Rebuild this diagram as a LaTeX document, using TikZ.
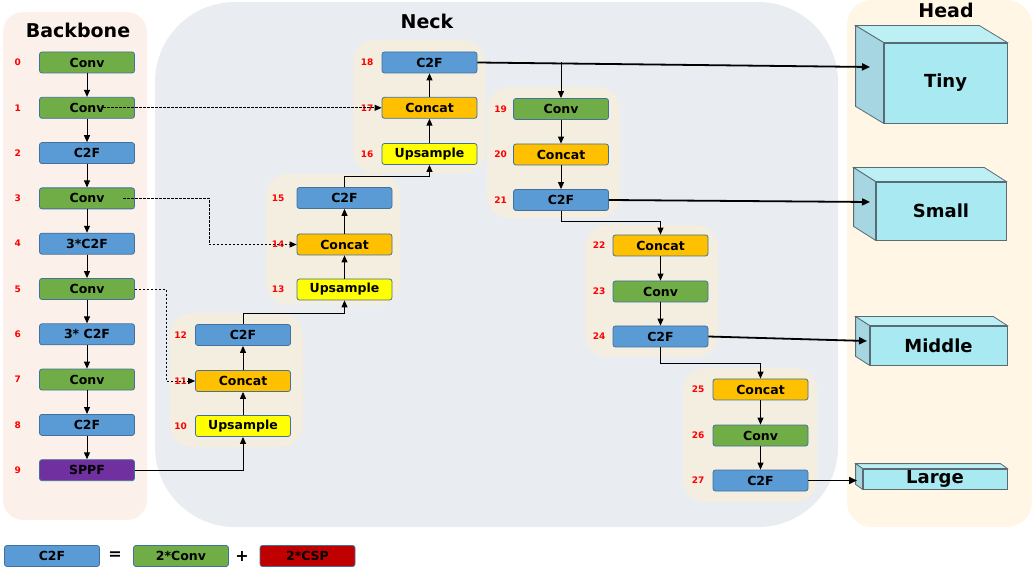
\documentclass[tikz,border=0pt]{standalone}
\usepackage{fontspec}
\setmainfont{DejaVu Sans}
\usetikzlibrary{arrows.meta}

\definecolor{backbonebg}{HTML}{FCF1EA}
\definecolor{neckbg}{HTML}{E9ECF1}
\definecolor{groupbg}{HTML}{F4EEE0}
\definecolor{headbg}{HTML}{FFF6E5}
\definecolor{convgreen}{HTML}{70AD47}
\definecolor{c2fblue}{HTML}{5B9BD5}
\definecolor{concatorange}{HTML}{FFC000}
\definecolor{upyellow}{HTML}{FFFF00}
\definecolor{sppfpurple}{HTML}{7030A0}
\definecolor{cspred}{HTML}{C00000}
\definecolor{boxline}{HTML}{41719C}
\definecolor{cubefront}{HTML}{A9E9F1}
\definecolor{cubetop}{HTML}{BDF0F5}
\definecolor{cubeside}{HTML}{A6D6E2}
\definecolor{cubeline}{HTML}{5A6B73}

\begin{document}
\begin{tikzpicture}[x=1pt,y=-1pt]

      \tikzset{block/.style={draw=boxline, line width=0.8pt, rounded corners=2.5pt, minimum width=95pt, minimum height=21pt, inner sep=0pt, font=\bfseries\fontsize{12.5}{14}\selectfont},
               conv/.style={block, fill=convgreen},
               c2f/.style={block, fill=c2fblue},
               concat/.style={block, fill=concatorange},
               upsample/.style={block, fill=upyellow},
               sppf/.style={block, fill=sppfpurple},
               csp/.style={block, fill=cspred},
               idx/.style={text=red, inner sep=0pt, font=\bfseries\fontsize{9}{10}\selectfont, label distance=8pt},
               title/.style={font=\bfseries\fontsize{19}{22}\selectfont},
               cube/.style={draw=cubeline, line width=0.8pt},
               cubefront/.style={cube, fill=cubefront, inner sep=0pt, font=\bfseries\fontsize{18}{20}\selectfont},
               arr/.style={-{Triangle[length=7pt,width=6pt]}, line width=1pt},
               dasharr/.style={arr, line width=0.8pt, dash pattern=on 2.5pt off 1.5pt},
               headarr/.style={-{Triangle[length=8pt,width=7pt]}, line width=1.8pt}}

      \useasboundingbox (0,0) rectangle (1034,569);
%% Panels
      	\fill[backbonebg, rounded corners=20pt] (3,12) rectangle (147,520);
      	\fill[neckbg, rounded corners=80pt] (155,2) rectangle (838,527);
      	\fill[headbg, rounded corners=25pt] (847,0) rectangle (1032,527);
      	\fill[groupbg, rounded corners=22pt] (170,313) rectangle (303,447);
      	\fill[groupbg, rounded corners=22pt] (266,174) rectangle (400,305);
      	\fill[groupbg, rounded corners=22pt] (353,40) rectangle (485,173);
      	\fill[groupbg, rounded corners=22pt] (487,87) rectangle (620,218);
      	\fill[groupbg, rounded corners=22pt] (585,225) rectangle (718,357);
      	\fill[groupbg, rounded corners=22pt] (683,368) rectangle (817,502);
      	\node[title] (backbone) at (78,30) {Backbone};
      	\node[title] (neck) at (427,21) {Neck};
      	\node[title] (head) at (946,10) {Head};
%% Backbone
      	\node[conv, label={[idx, label distance=18pt]left:0}] (b0) at (87,62.5) {Conv};
      	\node[conv, label={[idx, label distance=18pt]left:1}] (b1) at (87,107.8) {Conv};
      	\node[c2f, label={[idx, label distance=18pt]left:2}] (b2) at (87,153.1) {C2F};
      	\node[conv, label={[idx, label distance=18pt]left:3}] (b3) at (87,198.4) {Conv};
      	\node[c2f, label={[idx, label distance=18pt]left:4}] (b4) at (87,243.7) {3*C2F};
      	\node[conv, label={[idx, label distance=18pt]left:5}] (b5) at (87,289) {Conv};
      	\node[c2f, label={[idx, label distance=18pt]left:6}] (b6) at (87,334.3) {3* C2F};
      	\node[conv, label={[idx, label distance=18pt]left:7}] (b7) at (87,379.6) {Conv};
      	\node[c2f, label={[idx, label distance=18pt]left:8}] (b8) at (87,424.9) {C2F};
      	\node[sppf, label={[idx, label distance=18pt]left:9}] (b9) at (87,470.2) {SPPF};
%% Neck
      	\node[upsample, label={[idx]left:10}] (n10) at (243,426) {Upsample};
      	\node[concat, label={[idx]left:11}] (n11) at (243,381) {Concat};
      	\node[c2f, label={[idx]left:12}] (n12) at (243,335) {C2F};
      	\node[upsample, label={[idx, label distance=12pt]left:13}] (n13) at (344.5,289.5) {Upsample};
      	\node[concat, label={[idx, label distance=12pt]left:14}] (n14) at (344.5,244.5) {Concat};
      	\node[c2f, label={[idx, label distance=12pt]left:15}] (n15) at (344.5,198) {C2F};
      	\node[upsample, label={[idx]left:16}] (n16) at (429.5,154) {Upsample};
      	\node[concat, label={[idx]left:17}] (n17) at (429.5,107.8) {Concat};
      	\node[c2f, label={[idx]left:18}] (n18) at (429.5,62.5) {C2F};
      	\node[conv, label={[idx, label distance=6pt]left:19}] (n19) at (561,109) {Conv};
      	\node[concat, label={[idx, label distance=6pt]left:20}] (n20) at (561,154.5) {Concat};
      	\node[c2f, label={[idx, label distance=6pt]left:21}] (n21) at (561,200) {C2F};
      	\node[concat, label={[idx, label distance=7pt]left:22}] (n22) at (660.5,245.5) {Concat};
      	\node[conv, label={[idx, label distance=7pt]left:23}] (n23) at (660.5,291.5) {Conv};
      	\node[c2f, label={[idx, label distance=7pt]left:24}] (n24) at (660.5,336.5) {C2F};
      	\node[concat, label={[idx]left:25}] (n25) at (760.5,389.5) {Concat};
      	\node[conv, label={[idx]left:26}] (n26) at (760.5,435.5) {Conv};
      	\node[c2f, label={[idx]left:27}] (n27) at (760.5,480.5) {C2F};
%% Head
      	\node[cubefront, minimum width=123pt, minimum height=80pt] (tiny) at (945.5,83) {Tiny};
      	\filldraw[cube, fill=cubetop] (tiny.north west) -- ++(-28,-17) -- ([shift={(-28,-17)}]tiny.north east) -- (tiny.north east) -- cycle;
      	\filldraw[cube, fill=cubeside] (tiny.north west) -- ++(-28,-17) -- ([shift={(-28,-17)}]tiny.south west) -- (tiny.south west) -- cycle;
      	\node[cubefront, minimum width=130pt, minimum height=58pt] (small) at (941,211) {Small};
      	\filldraw[cube, fill=cubetop] (small.north west) -- ++(-22,-14) -- ([shift={(-22,-14)}]small.north east) -- (small.north east) -- cycle;
      	\filldraw[cube, fill=cubeside] (small.north west) -- ++(-22,-14) -- ([shift={(-22,-14)}]small.south west) -- (small.south west) -- cycle;
      	\node[cubefront, minimum width=137pt, minimum height=39pt] (middle) at (938.5,345.5) {Middle};
      	\filldraw[cube, fill=cubetop] (middle.north west) -- ++(-14,-9) -- ([shift={(-14,-9)}]middle.north east) -- (middle.north east) -- cycle;
      	\filldraw[cube, fill=cubeside] (middle.north west) -- ++(-14,-9) -- ([shift={(-14,-9)}]middle.south west) -- (middle.south west) -- cycle;
      	\node[cubefront, minimum width=144pt, minimum height=20pt] (large) at (935,479) {Large};
      	\filldraw[cube, fill=cubetop] (large.north west) -- ++(-7,-5) -- ([shift={(-7,-5)}]large.north east) -- (large.north east) -- cycle;
      	\filldraw[cube, fill=cubeside] (large.north west) -- ++(-7,-5) -- ([shift={(-7,-5)}]large.south west) -- (large.south west) -- cycle;
      	\coordinate (tinyin) at (870,67);
      	\coordinate (smallin) at (870,202);
      	\coordinate (middlein) at (867,341);
      	\coordinate (largein) at (857,480.5);
%% Legend
      	\node[c2f] (lc2f) at (52,556) {C2F};
      	\node[font=\bfseries\fontsize{16}{18}\selectfont] (leq) at (115,556) {=};
      	\node[conv] (lconv) at (181,556) {2*Conv};
      	\node[font=\bfseries\fontsize{16}{18}\selectfont] (lplus) at (242,556) {+};
      	\node[csp] (lcsp) at (307.5,556) {2*CSP};
%Edges
		\draw[arr] (b0) -- (b1);
		\draw[arr] (b1) -- (b2);
		\draw[arr] (b2) -- (b3);
		\draw[arr] (b3) -- (b4);
		\draw[arr] (b4) -- (b5);
		\draw[arr] (b5) -- (b6);
		\draw[arr] (b6) -- (b7);
		\draw[arr] (b7) -- (b8);
		\draw[arr] (b8) -- (b9);
		\draw[dasharr] ([xshift=16pt]b1.center) -- (n17.west);
		\draw[dasharr] ([xshift=36pt]b3.center) -- ++(86,0) |- (n14.west);
		\draw[dasharr] (b5.east) -- ++(31,0) |- (n11.west);
		\draw[arr] (b9.east) -| (n10.south);
		\draw[arr] (n10) -- (n11);
		\draw[arr] (n11) -- (n12);
		\draw[arr] (n12.north) -- ++(0,-11) -| (n13.south);
		\draw[arr] (n13) -- (n14);
		\draw[arr] (n14) -- (n15);
		\draw[arr] (n15.north) -- ++(0,-11) -| (n16.south);
		\draw[arr] (n16) -- (n17);
		\draw[arr] (n17) -- (n18);
		\draw[arr] (n19.north |- n18.east) -- (n19.north);
		\draw[arr] (n19) -- (n20);
		\draw[arr] (n20) -- (n21);
		\draw[arr] (n21.south) -- ++(0,11) -| (n22.north);
		\draw[arr] (n22) -- (n23);
		\draw[arr] (n23) -- (n24);
		\draw[arr] (n24.south) -- ++(0,16) -| (n25.north);
		\draw[arr] (n25) -- (n26);
		\draw[arr] (n26) -- (n27);
		\draw[headarr] (n18.east) -- (tinyin);
		\draw[headarr] (n21.east) -- (smallin);
		\draw[headarr] (n24.east) -- (middlein);
		\draw[headarr] (n27.east) -- (largein);

	\end{tikzpicture}
\end{document}
